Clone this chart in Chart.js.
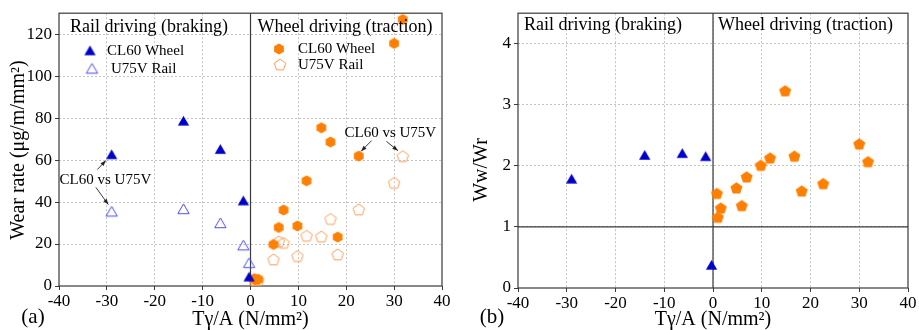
<!DOCTYPE html>
<html>
<head>
<meta charset="utf-8">
<title>Wear rate vs T-gamma/A</title>
<script src="https://cdn.jsdelivr.net/npm/chart.js@4.4.0/dist/chart.umd.min.js"></script>
<style>
  html, body { margin: 0; padding: 0; background: #fff; }
  #wrap { position: relative; width: 919px; height: 330px; overflow: hidden; }
  .panel { position: absolute; top: 0; height: 330px; }
  #panelA { left: 0; width: 460px; }
  #panelB { left: 460px; width: 459px; }
</style>
</head>
<body>
<div id="wrap">
  <div class="panel" id="panelA"><canvas id="chartA" width="460" height="330"></canvas></div>
  <div class="panel" id="panelB"><canvas id="chartB" width="459" height="330"></canvas></div>
</div>
<script>
// ---------- Data ----------
const xTicks = [-40, -30, -20, -10, 0, 10, 20, 30, 40];
const wearTicks = [0, 20, 40, 60, 80, 100, 120];
const ratioTicks = [0, 1, 2, 3, 4];

// rail driving (braking) — negative Tγ/A
const brakeX = [-29, -14, -6.3, -1.5, -0.3];
const brakeWheel = [62.5, 78.5, 65, 40.5, 4.2];
const brakeRail = [35.3, 36.5, 29.8, 19.2, 10.8];
const brakeRatio = [1.78, 2.17, 2.2, 2.15, 0.37];

// wheel driving (traction) — positive Tγ/A
const tractX = [31.8, 30, 22.6, 16.7, 14.8, 11.7, 18.2, 9.8, 6.9, 5.9, 4.8, 0.8, 1.6, 1.0];
const tractWheel = [127, 115.6, 61.9, 68.6, 75.4, 50.1, 23.3, 28.6, 36.2, 27.9, 19.8, 3.5, 3.2, 2.9];
const tractRail = [61.6, 48.9, 36.2, 31.7, 23.3, 23.7, 14.8, 14.0, 20.3, 21.0, 12.4, 2.3, 2.45, 2.5];
const tractRatio = [2.06, 2.35, 1.70, 2.15, 3.22, 2.12, 1.58, 2.0, 1.81, 1.34, 1.63, 1.54, 1.30, 1.15];

// ---------- Styling ----------
const SERIF = '"Liberation Serif", "DejaVu Serif", serif';
const BLUE = '#0000c8';
const BLUE_OPEN = '#4b4bf0';
const ORANGE = '#ff7f00';
const ORANGE_OPEN = '#ff9d55';
const GRID = '#c4c4c4';
const AXIS = '#3a3a3a';

// ---------- Marker images ----------
function polyMarker(sides, r, fill, stroke, lw) {
  const size = Math.ceil(2 * r + 4);
  const c = document.createElement('canvas');
  c.width = size; c.height = size;
  const g = c.getContext('2d');
  const cx = size / 2, cy = size / 2 + (sides === 3 ? r * 0.15 : 0);
  g.beginPath();
  for (let i = 0; i < sides; i++) {
    const a = -Math.PI / 2 + i * 2 * Math.PI / sides;
    const px = cx + r * Math.cos(a), py = cy + r * Math.sin(a);
    if (i) g.lineTo(px, py); else g.moveTo(px, py);
  }
  g.closePath();
  if (fill) { g.fillStyle = fill; g.fill(); }
  if (stroke) { g.strokeStyle = stroke; g.lineWidth = lw; g.stroke(); }
  return c;
}

const triFilled = polyMarker(3, 6.5, BLUE, null, 0);
const triOpen = polyMarker(3, 6.5, null, BLUE_OPEN, 1);
const hexFilled = polyMarker(6, 5.6, ORANGE, null, 0);
const pentOpen = polyMarker(5, 6, null, ORANGE_OPEN, 1);
const pentFilled = polyMarker(5, 6.3, ORANGE, null, 0);

function pts(xs, ys) {
  return xs.map((x, i) => ({ x, y: ys[i] }));
}

// ---------- Axis helpers ----------
function xAxis(height) {
  return {
    type: 'linear', min: -40, max: 40,
    afterBuildTicks: s => { s.ticks = xTicks.map(v => ({ value: v })); },
    afterFit: s => { s.height = height; },
    ticks: { color: '#000', font: { family: SERIF, size: 17 }, padding: 1, maxRotation: 0, autoSkip: false },
    grid: {
      color: c => (c.tick && Math.abs(c.tick.value) === 40) ? 'rgba(0,0,0,0)' : GRID,
      tickColor: AXIS, tickLength: 4, tickBorderDash: []
    },
    border: { display: false, dash: [2, 2] }
  };
}

function yAxis(max, tickVals, width) {
  return {
    type: 'linear', min: 0, max,
    afterBuildTicks: s => { s.ticks = tickVals.map(v => ({ value: v })); },
    afterFit: s => { s.width = width; },
    ticks: { color: '#000', font: { family: SERIF, size: 17 }, padding: 3 },
    grid: {
      color: c => (c.tick && c.tick.value === 0) ? 'rgba(0,0,0,0)' : GRID,
      tickColor: AXIS, tickLength: 4, tickBorderDash: []
    },
    border: { display: false, dash: [2, 2] }
  };
}

// ---------- Drawing helpers ----------
function arrow(ctx, x1, y1, x2, y2) {
  const a = Math.atan2(y2 - y1, x2 - x1), h = 6;
  ctx.beginPath(); ctx.moveTo(x1, y1); ctx.lineTo(x2, y2); ctx.stroke();
  ctx.beginPath(); ctx.moveTo(x2, y2);
  ctx.lineTo(x2 - h * Math.cos(a - 0.35), y2 - h * Math.sin(a - 0.35));
  ctx.lineTo(x2 - h * Math.cos(a + 0.35), y2 - h * Math.sin(a + 0.35));
  ctx.closePath(); ctx.fill();
}

function text(ctx, s, x, y, size, align) {
  ctx.font = size + 'px ' + SERIF;
  ctx.fillStyle = '#000';
  ctx.textAlign = align || 'left';
  ctx.textBaseline = 'middle';
  ctx.fillText(s, x, y);
}

function icon(ctx, img, x, y) {
  ctx.drawImage(img, x - img.width / 2, y - img.height / 2);
}

// frame, zero lines and all labels
function framePlugin(opts) {
  return {
    id: 'frame',
    beforeDatasetsDraw(chart) {
      const { ctx, chartArea: ca, scales } = chart;
      ctx.save();
      ctx.strokeStyle = AXIS;
      ctx.lineWidth = 1.2;
      const x0 = scales.x.getPixelForValue(0);
      ctx.beginPath(); ctx.moveTo(x0, ca.top); ctx.lineTo(x0, ca.bottom); ctx.stroke();
      if (opts.hLine !== undefined) {
        const y1 = scales.y.getPixelForValue(opts.hLine);
        ctx.beginPath(); ctx.moveTo(ca.left, y1); ctx.lineTo(ca.right, y1); ctx.stroke();
      }
      ctx.strokeRect(ca.left, ca.top, ca.right - ca.left, ca.bottom - ca.top);
      ctx.restore();
    },
    afterDraw(chart) {
      const { ctx, chartArea: ca, scales } = chart;
      ctx.save();
      const x0 = scales.x.getPixelForValue(0);
      // quadrant labels
      text(ctx, 'Rail driving (braking)', ca.left + opts.qPad[0], ca.top + opts.qY, 18);
      text(ctx, 'Wheel driving (traction)', x0 + opts.qPad[1], ca.top + opts.qY, 18);
      // legend
      (opts.legend || []).forEach(l => {
        icon(ctx, l.img, l.x, l.y);
        text(ctx, l.label, l.tx, l.y, 15);
      });
      // annotations
      ctx.strokeStyle = '#222'; ctx.fillStyle = '#222'; ctx.lineWidth = 0.9;
      (opts.notes || []).forEach(n => {
        text(ctx, n.label, scales.x.getPixelForValue(n.x), scales.y.getPixelForValue(n.y), 15, 'center');
        ctx.strokeStyle = '#222'; ctx.fillStyle = '#222';
        n.arrows.forEach(a => arrow(ctx,
          scales.x.getPixelForValue(a[0]), scales.y.getPixelForValue(a[1]),
          scales.x.getPixelForValue(a[2]), scales.y.getPixelForValue(a[3])));
      });
      // axis titles
      text(ctx, 'Tγ/A (N/mm²)', (ca.left + ca.right) / 2, 320, 20, 'center');
      ctx.save();
      ctx.translate(opts.yTitle.x, opts.yTitle.y);
      ctx.rotate(-Math.PI / 2);
      text(ctx, opts.yTitle.label, 0, 0, 20, 'center');
      ctx.restore();
      // panel label
      text(ctx, opts.panel.label, opts.panel.x, 317, 21, 'center');
      ctx.restore();
    }
  };
}

const baseOptions = {
  responsive: false,
  animation: false,
  devicePixelRatio: 1,
  events: [],
  plugins: { legend: { display: false }, tooltip: { enabled: false } }
};

// ---------- (a) Wear rate ----------
new Chart(document.getElementById('chartA'), {
  type: 'scatter',
  data: {
    datasets: [
      { label: 'CL60 Wheel', data: pts(brakeX, brakeWheel), pointStyle: triFilled },
      { label: 'U75V Rail', data: pts(brakeX, brakeRail), pointStyle: triOpen },
      { label: 'CL60 Wheel', data: pts(tractX, tractWheel), pointStyle: hexFilled },
      { label: 'U75V Rail', data: pts(tractX, tractRail), pointStyle: pentOpen }
    ]
  },
  options: {
    ...baseOptions,
    layout: { padding: { top: 13, right: 18, left: 0, bottom: 0 } },
    scales: { x: xAxis(44), y: yAxis(130, wearTicks, 59) }
  },
  plugins: [framePlugin({
    qPad: [11, 7], qY: 14,
    legend: [
      { img: triFilled, x: 90, y: 51, tx: 107, label: 'CL60 Wheel' },
      { img: triOpen, x: 92, y: 69, tx: 111, label: 'U75V Rail' },
      { img: hexFilled, x: 279, y: 49, tx: 298, label: 'CL60 Wheel' },
      { img: pentOpen, x: 280, y: 65, tx: 298, label: 'U75V Rail' }
    ],
    notes: [
      { label: 'CL60 vs U75V', x: -30.3, y: 50.7,
        arrows: [[-32, 55.5, -30.2, 59.8], [-32.3, 47, -29.7, 38.8]] },
      { label: 'CL60 vs U75V', x: 29.2, y: 73.1,
        arrows: [[25.3, 69.3, 23.1, 64.2], [28.4, 68.9, 30.8, 64.5]] }
    ],
    yTitle: { x: 19, y: 150, label: 'Wear rate (μg/m/mm²)' },
    panel: { label: '(a)', x: 33 }
  })]
});

// ---------- (b) Ww/Wr ----------
new Chart(document.getElementById('chartB'), {
  type: 'scatter',
  data: {
    datasets: [
      { label: 'Braking', data: pts(brakeX, brakeRatio), pointStyle: triFilled },
      { label: 'Traction', data: pts(tractX, tractRatio), pointStyle: pentFilled }
    ]
  },
  options: {
    ...baseOptions,
    layout: { padding: { top: 8, right: 11, left: 0, bottom: 0 } },
    scales: { x: xAxis(42), y: yAxis(4.5, ratioTicks, 58) }
  },
  plugins: [framePlugin({
    hLine: 1,
    qPad: [6, 5], qY: 12,
    yTitle: { x: 22, y: 170, label: 'Ww/Wr' },
    panel: { label: '(b)', x: 32 }
  })]
});
</script>
</body>
</html>
